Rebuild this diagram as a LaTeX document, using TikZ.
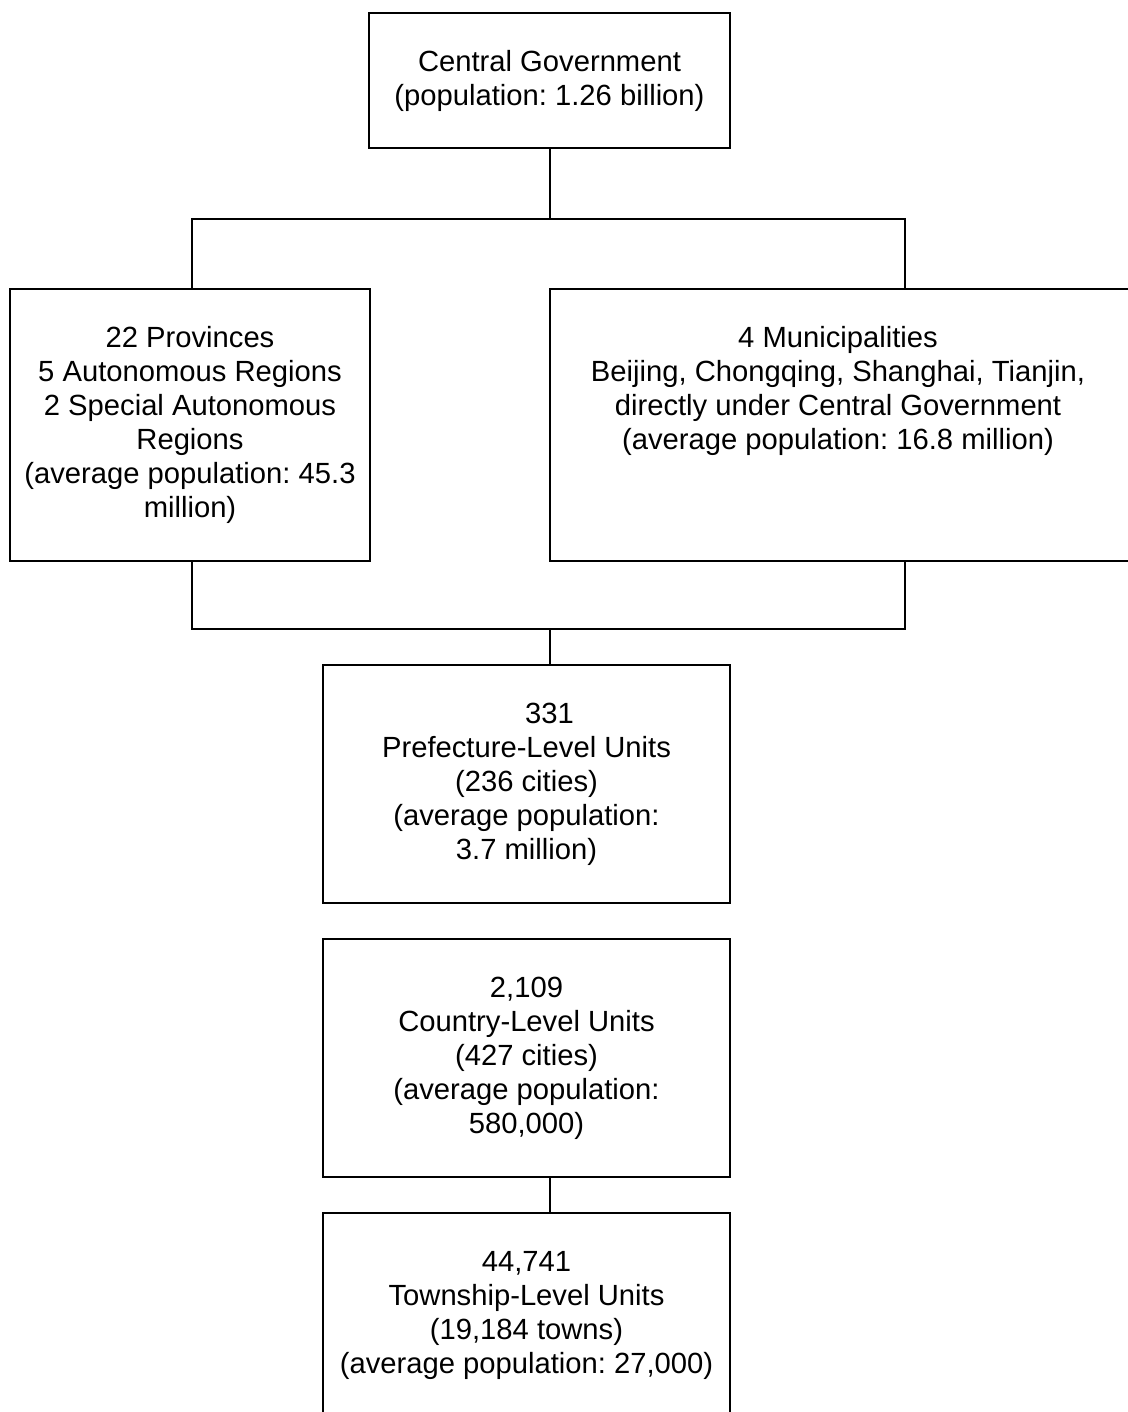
\documentclass[tikz,border=0pt]{standalone}
\usepackage{fontspec}
\setmainfont{Liberation Sans}
\frenchspacing
\begin{document}
\begin{tikzpicture}[x=0.5pt,y=-0.5pt,
  unitbox/.style={draw,line width=1pt,rectangle,inner sep=0pt},
  unittext/.style={anchor=north,align=center,inner sep=0pt,font=\fontsize{14.6}{17}\selectfont},
  link/.style={line width=1pt}]%
\useasboundingbox (0,0) rectangle (1128,1412);%
\clip (0,0) rectangle (1128,1412);%
% boxes
\node[unitbox,minimum width=180.5pt,minimum height=67.5pt] (gov) at (549.5,80.5) {};%
\node[unitbox,minimum width=180pt,minimum height=136pt] (prov) at (190,425) {};%
\node[unitbox,minimum width=295pt,minimum height=136pt] (muni) at (845,425) {};%
\node[unitbox,minimum width=203.5pt,minimum height=119pt] (pref) at (526.5,784) {};%
\node[unitbox,minimum width=203.5pt,minimum height=119pt] (county) at (526.5,1058) {};%
\node[unitbox,minimum width=203.5pt,minimum height=119pt] (town) at (526.5,1332) {};%
% texts
\node[unittext] (gov-t) at ([yshift=-17.5pt]gov.north) {\rule{0pt}{12pt}Central Government\\(population: 1.26 billion)};%
\node[unittext] (prov-t) at ([yshift=-17.5pt]prov.north) {\rule{0pt}{12pt}22 Provinces\\5 Autonomous Regions\\2 Special Autonomous\\Regions\\(average population: 45.3\\million)};%
\node[unittext] (muni-t) at ([xshift=-3.5pt,yshift=-17.5pt]muni.north) {\rule{0pt}{12pt}4 Municipalities\\Beijing, Chongqing, Shanghai, Tianjin,\\directly under Central Government\\(average population: 16.8 million)};%
\node[unittext] (pref-t) at ([yshift=-17.5pt]pref.north) {\rule{0pt}{12pt}\hspace*{23pt}331\\Prefecture-Level Units\\(236 cities)\\(average population:\\3.7 million)};%
\node[unittext] (county-t) at ([yshift=-17.5pt]county.north) {\rule{0pt}{12pt}2,109\\Country-Level Units\\(427 cities)\\(average population:\\580,000)};%
\node[unittext] (town-t) at ([yshift=-17.5pt]town.north) {\rule{0pt}{12pt}44,741\\Township-Level Units\\(19,184 towns)\\(average population: 27,000)};%
% connectors
\coordinate (upL) at (192,219);%
\coordinate (upR) at (905,219);%
\coordinate (loL) at (192,629);%
\coordinate (loR) at (905,629);%
\draw[link] (gov.south) -- (gov.south |- upL);%
\draw[link] (upL |- prov.north) -- (upL) -- (upR) -- (upR |- muni.north);%
\draw[link] (loL |- prov.south) -- (loL) -- (loR) -- (loR |- muni.south);%
\draw[link] (gov.south |- loL) -- (gov.south |- pref.north);%
\draw[link] (gov.south |- county.south) -- (gov.south |- town.north);%
\end{tikzpicture}
\end{document}
